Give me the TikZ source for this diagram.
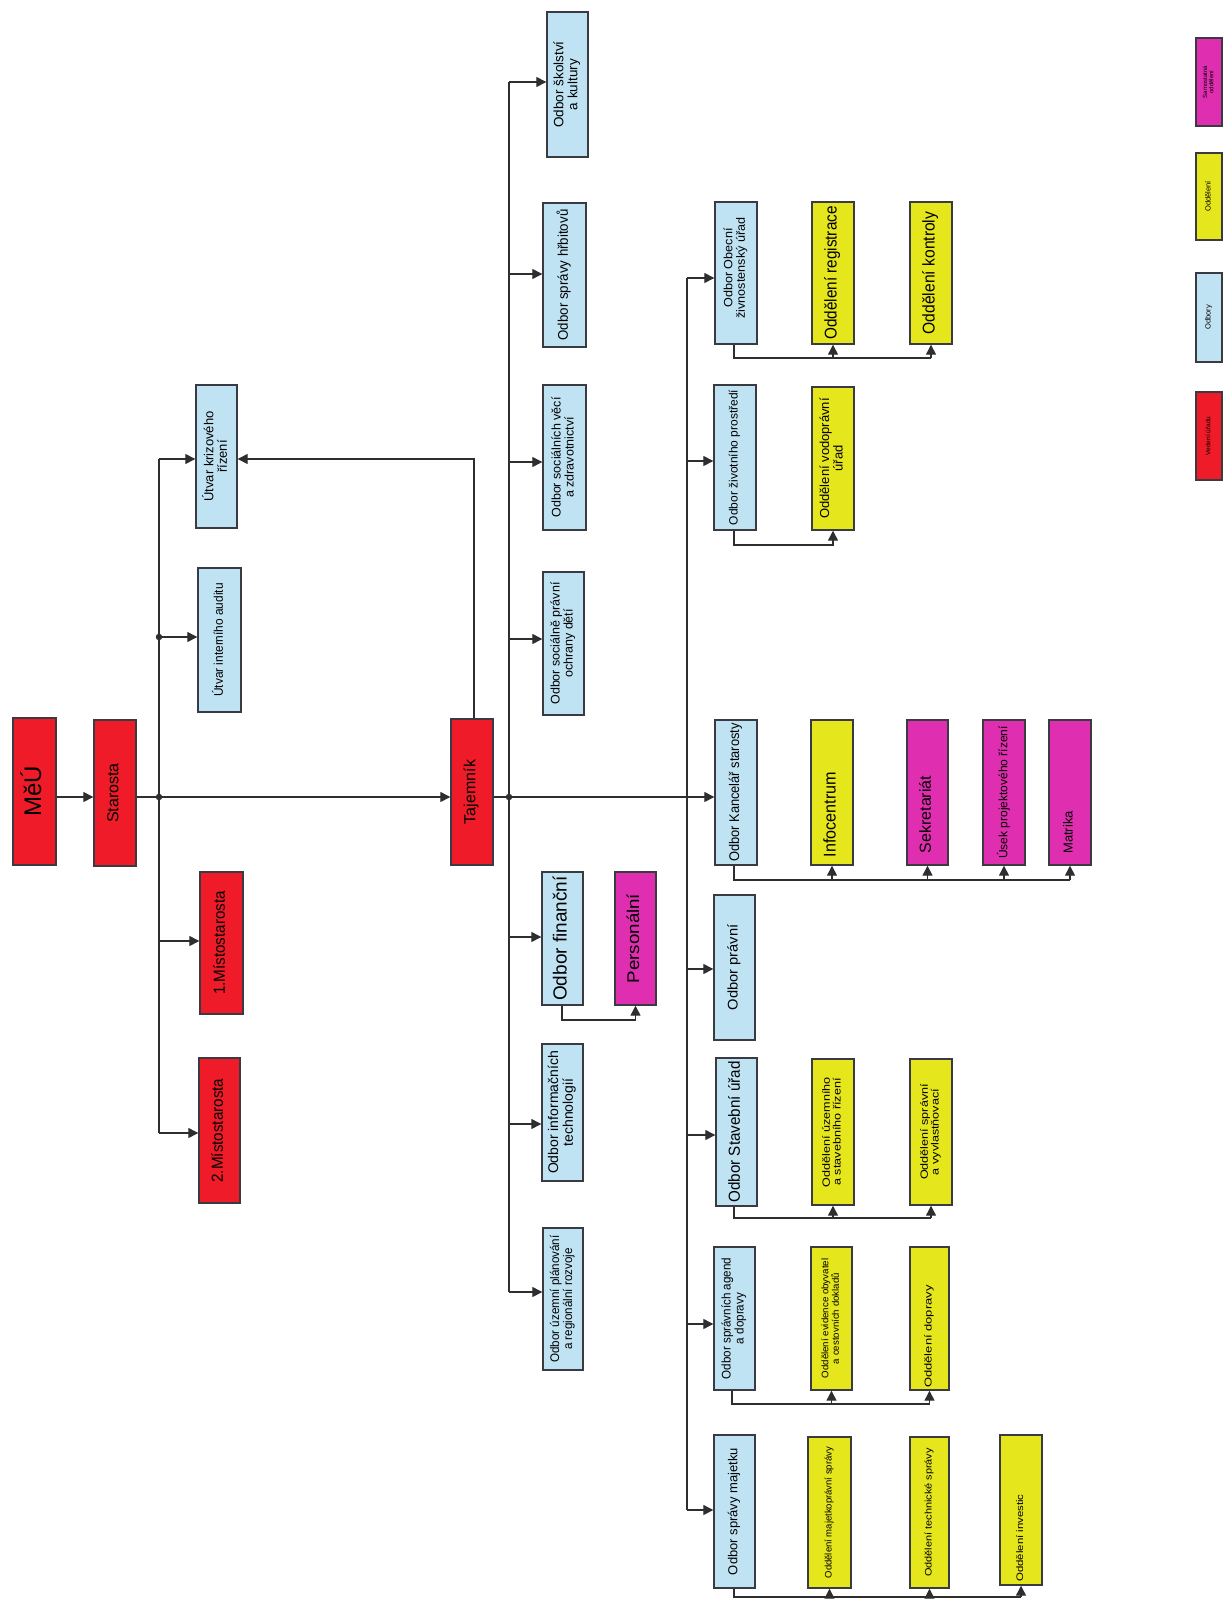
\documentclass[tikz,border=0pt]{standalone}
\usepackage{fontspec}
\setmainfont{Liberation Sans}
\usetikzlibrary{arrows.meta}
\definecolor{cred}{HTML}{EF1B28}
\definecolor{cblue}{HTML}{C0E3F3}
\definecolor{cyel}{HTML}{E6E61C}
\definecolor{cmag}{HTML}{E02EB0}
\definecolor{cline}{HTML}{2E2E2E}
\definecolor{cedge}{HTML}{3A3A42}

% text settings of a box: font size, stretch along the text, shift towards the box start
\pgfkeys{/bx/.is family,
  /bx/fs/.store in=\bxfs, /bx/hs/.store in=\bxhs, /bx/off/.store in=\bxoff}

% box: name, style, x1, y1, x2, y2, text settings, text
\newcommand\bx[8]{%
  \pgfkeys{/bx/.cd, fs=12, hs=1, off=0, #7}%
  \pgfmathsetmacro\bw{#5-#3}\pgfmathsetmacro\bh{#6-#4}\pgfmathsetmacro\bl{\bxfs*1.08}%
  \node[#2, minimum width=\bw pt, minimum height=\bh pt] (#1) at ({(#3+#5)/2},{(#4+#6)/2}) {};
  \node[rotate=90, inner sep=0pt, font=\fontsize{\bxfs}{\bl}\selectfont]
    (#1-t) at ([yshift=-\bxoff pt]#1.center)
    {\scalebox{\bxhs}[1]{\begin{tabular}{@{}c@{}}#8\end{tabular}}};}

\begin{document}
\begin{tikzpicture}[x=1pt,y=-1pt,
  box/.style={draw=cedge, line width=1.4pt, inner sep=0pt, rectangle},
  redbox/.style={box, fill=cred},
  bluebox/.style={box, fill=cblue},
  yelbox/.style={box, fill=cyel},
  magbox/.style={box, fill=cmag},
  ln/.style={draw=cline, line width=1.3pt},
  arr/.style={-{Triangle[length=10pt,width=10pt]}},
  dot/.style={circle, fill=cline, inner sep=0pt, minimum size=6.5pt}]

\fill[white] (0,0) rectangle (1225,1602);
\useasboundingbox (0,0) rectangle (1225,1602);
\renewcommand\arraystretch{0.95}

% top management
\bx{meu}{redbox}{13}{718}{56}{865}{fs=24}{MěÚ}
\bx{starosta}{redbox}{94}{720}{136}{866}{fs=16}{Starosta}
\bx{misto1}{redbox}{200}{872}{243}{1014}{fs=16, hs=0.95}{1.Místostarosta}
\bx{misto2}{redbox}{199}{1058}{240}{1203}{fs=16, hs=0.95}{2.Místostarosta}
\bx{ukr}{bluebox}{196}{385}{237}{528}{fs=13}{Útvar krizového\\řízení}
\bx{uia}{bluebox}{198}{568}{241}{712}{fs=12.5, hs=0.95}{Útvar interního auditu}
\bx{taj}{redbox}{451}{719}{493}{865}{fs=16}{Tajemník}

% departments under the secretary
\bx{skol}{bluebox}{547}{12}{588}{157}{fs=13.5}{Odbor školství\\a kultury}
\bx{hrb}{bluebox}{543}{203}{586}{347}{fs=14, hs=0.95}{Odbor správy hřbitovů}
\bx{soc}{bluebox}{543}{385}{586}{530}{fs=12.5, hs=1.0}{Odbor sociálních věcí\\a zdravotnictví}
\bx{ospod}{bluebox}{543}{572}{584}{715}{fs=12.5, hs=1.0}{Odbor sociálně právní\\ochrany dětí}
\bx{fin}{bluebox}{542}{872}{583}{1005}{fs=19}{Odbor finanční}
\bx{pers}{magbox}{615}{872}{656}{1005}{fs=17, hs=1.1}{Personální}
\bx{it}{bluebox}{542}{1044}{583}{1181}{fs=14, hs=1.0}{Odbor informačních\\technologií}
\bx{uzp}{bluebox}{543}{1228}{583}{1370}{fs=12.5, hs=0.93}{Odbor územní plánování\\a regionální rozvoje}

% departments on the second branch
\bx{zivn}{bluebox}{715}{202}{757}{344}{fs=12, hs=1.05, off=-5}{Odbor Obecní\\živnostenský úřad}
\bx{reg}{yelbox}{812}{202}{854}{344}{fs=17, hs=0.9}{Oddělení registrace}
\bx{kon}{yelbox}{910}{202}{952}{344}{fs=17, hs=0.92}{Oddělení kontroly}
\bx{zp}{bluebox}{714}{385}{756}{530}{fs=12}{Odbor životního prostředí}
\bx{vod}{yelbox}{812}{387}{854}{530}{fs=13, hs=1.0}{Oddělení vodoprávní\\úřad}
\bx{kanc}{bluebox}{715}{720}{757}{865}{fs=14, hs=0.92}{Odbor Kancelář starosty}
\bx{info}{yelbox}{811}{720}{853}{865}{fs=17, hs=0.95, off=22}{Infocentrum}
\bx{sekr}{magbox}{907}{720}{948}{865}{fs=16, off=22}{Sekretariát}
\bx{usek}{magbox}{983}{720}{1025}{865}{fs=12}{Úsek projektového řízení}
\bx{matr}{magbox}{1049}{720}{1091}{865}{fs=13, off=40}{Matrika}
\bx{prav}{bluebox}{714}{895}{755}{1040}{fs=14, hs=1.05}{Odbor právní}
\bx{stav}{bluebox}{716}{1058}{757}{1206}{fs=16, hs=0.95}{Odbor Stavební úřad}
\bx{uzr}{yelbox}{812}{1059}{854}{1205}{fs=10.5, hs=1.2}{Oddělení územního\\a stavebního řízení}
\bx{spr}{yelbox}{910}{1059}{952}{1205}{fs=10.5, hs=1.2}{Oddělení správní\\a vyvlastňovací}
\bx{agend}{bluebox}{714}{1247}{755}{1390}{fs=12.5, hs=0.93}{Odbor správních agend\\a dopravy}
\bx{evid}{yelbox}{811}{1247}{852}{1390}{fs=9.5, hs=1.02}{Oddělení evidence obyvatel\\a cestovních dokladů}
\bx{dopr}{yelbox}{910}{1247}{949}{1390}{fs=10, hs=1.3, off=18}{Oddělení dopravy}
\bx{maj}{bluebox}{714}{1435}{755}{1588}{fs=13}{Odbor správy majetku}
\bx{mas}{yelbox}{808}{1437}{851}{1588}{fs=9.5, hs=1.0}{Oddělení majetkoprávní správy}
\bx{tech}{yelbox}{910}{1437}{949}{1588}{fs=9.5, hs=1.15}{Oddělení technické správy}
\bx{inv}{yelbox}{1000}{1435}{1042}{1585}{fs=9.5, hs=1.2, off=28}{Oddělení investic}

% legend
\bx{lmag}{magbox}{1196}{38}{1222}{126}{fs=6}{Samostatná\\oddělení}
\bx{lyel}{yelbox}{1196}{153}{1222}{240}{fs=7.5}{Oddělení}
\bx{lblue}{bluebox}{1196}{273}{1222}{362}{fs=7.5}{Odbory}
\bx{lred}{redbox}{1196}{392}{1222}{480}{fs=6.5}{Vedení úřadu}

% mayor's branch
\node[dot] (d1) at (159,797) {};
\node[dot] (d2) at (159,637) {};
\coordinate (s1) at (159,459);
\coordinate (s3) at (159,941);
\coordinate (s4) at (159,1133);
\draw[ln,arr] (meu.east |- d1) -- (starosta.west |- d1);
\draw[ln] (s1) -- (s4);
\draw[ln,arr] (s1) -- (ukr.west |- s1);
\draw[ln,arr] (d2) -- (uia.west |- d2);
\draw[ln,arr] (s3) -- (misto1.west |- s3);
\draw[ln,arr] (s4) -- (misto2.west |- s4);
\draw[ln,arr] (starosta.east |- d1) -- (taj.west |- d1);

% secretary to crisis management
\coordinate (tk) at (474,459);
\draw[ln,arr] (taj.north -| tk) -- (tk) -- (ukr.east |- tk);

% secretary's first branch
\node[dot] (d3) at (509,797) {};
\coordinate (t1) at (509,82);
\coordinate (t2) at (509,274);
\coordinate (t3) at (509,462);
\coordinate (t4) at (509,639);
\coordinate (t5) at (509,937);
\coordinate (t6) at (509,1124);
\coordinate (t7) at (509,1292);
\draw[ln] (t1) -- (t7);
\draw[ln,arr] (t1) -- (skol.west |- t1);
\draw[ln,arr] (t2) -- (hrb.west |- t2);
\draw[ln,arr] (t3) -- (soc.west |- t3);
\draw[ln,arr] (t4) -- (ospod.west |- t4);
\draw[ln,arr] (t5) -- (fin.west |- t5);
\draw[ln,arr] (t6) -- (it.west |- t6);
\draw[ln,arr] (t7) -- (uzp.west |- t7);
\coordinate (fp) at (562,1020);
\draw[ln,arr] (fin.south -| fp) -- (fp) -- (pers.south |- fp) -- (pers.south);

% secretary's second branch
\coordinate (k1) at (687,278);
\coordinate (k2) at (687,461);
\coordinate (k4) at (687,969);
\coordinate (k5) at (687,1135);
\coordinate (k6) at (687,1324);
\coordinate (k7) at (687,1510);
\draw[ln,arr] (taj.east |- d3) -- (kanc.west |- d3);
\draw[ln] (k1) -- (k7);
\draw[ln,arr] (k1) -- (zivn.west |- k1);
\draw[ln,arr] (k2) -- (zp.west |- k2);
\draw[ln,arr] (k4) -- (prav.west |- k4);
\draw[ln,arr] (k5) -- (stav.west |- k5);
\draw[ln,arr] (k6) -- (agend.west |- k6);
\draw[ln,arr] (k7) -- (maj.west |- k7);

% sections under the departments
\coordinate (zv) at (734,358);
\draw[ln] (zivn.south -| zv) -- (zv) -- (kon.south |- zv);
\draw[ln,arr] (reg.south |- zv) -- (reg.south);
\draw[ln,arr] (kon.south |- zv) -- (kon.south);

\coordinate (zpv) at (734,545);
\draw[ln,arr] (zp.south -| zpv) -- (zpv) -- (vod.south |- zpv) -- (vod.south);

\coordinate (kv) at (734,880);
\draw[ln] (kanc.south -| kv) -- (kv) -- (matr.south |- kv);
\draw[ln,arr] (info.south |- kv) -- (info.south);
\draw[ln,arr] (sekr.south |- kv) -- (sekr.south);
\draw[ln,arr] (usek.south |- kv) -- (usek.south);
\draw[ln,arr] (matr.south |- kv) -- (matr.south);

\coordinate (sv) at (734,1218);
\draw[ln] (stav.south -| sv) -- (sv) -- (spr.south |- sv);
\draw[ln,arr] (uzr.south |- sv) -- (uzr.south);
\draw[ln,arr] (spr.south |- sv) -- (spr.south);

\coordinate (av) at (732,1404);
\draw[ln] (agend.south -| av) -- (av) -- (dopr.south |- av);
\draw[ln,arr] (evid.south |- av) -- (evid.south);
\draw[ln,arr] (dopr.south |- av) -- (dopr.south);

\coordinate (mv) at (734,1597);
\draw[ln] (maj.south -| mv) -- (mv) -- (inv.south |- mv);
\draw[ln,arr] (mas.south |- mv) -- (mas.south);
\draw[ln,arr] (tech.south |- mv) -- (tech.south);
\draw[ln,arr] (inv.south |- mv) -- (inv.south);
\end{tikzpicture}
\end{document}
